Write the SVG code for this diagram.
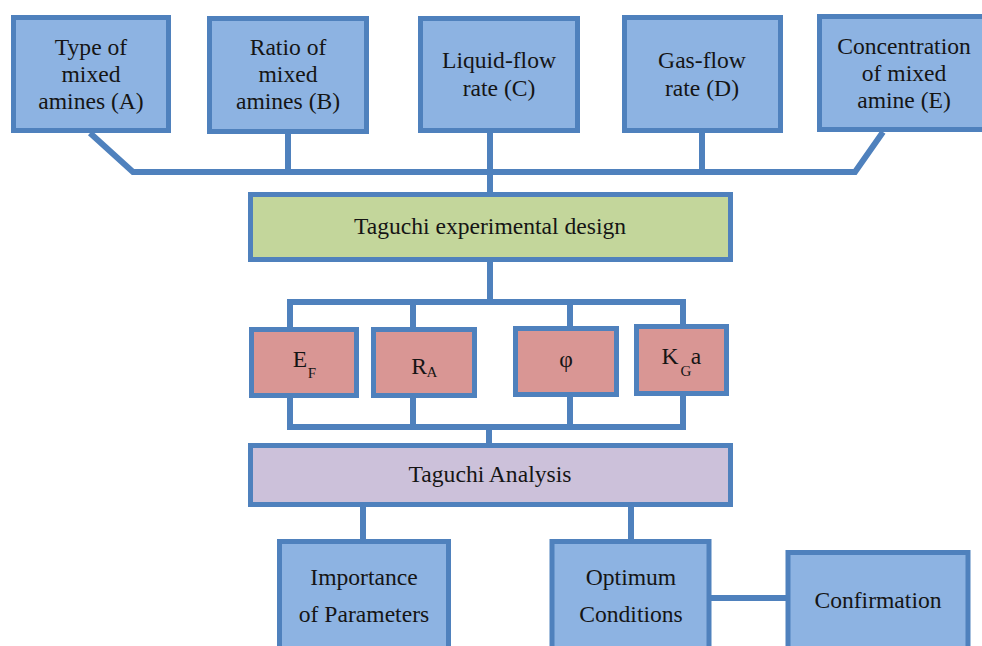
<svg xmlns="http://www.w3.org/2000/svg" width="982" height="646" viewBox="0 0 982 646">
<style>
.box{stroke:#4f81bd;stroke-width:5}
.blue{fill:#8db3e2}
.green{fill:#c3d69b}
.pink{fill:#d99694}
.purple{fill:#ccc1da}
text{font-family:"Liberation Serif","Times New Roman",serif;font-size:23.6px;fill:#151515;text-anchor:middle}
.sub{font-size:15px}
.conn{stroke:#4f81bd;stroke-width:6;fill:none;stroke-linejoin:miter}
</style>
<rect width="982" height="646" fill="#fff"/>
<g id="connectors">
<polyline class="conn" points="90,133 133,172 855,172 883,132"/>
<line class="conn" x1="288" y1="133" x2="288" y2="172"/>
<line class="conn" x1="490" y1="133" x2="490" y2="195"/>
<line class="conn" x1="702" y1="133" x2="702" y2="172"/>
<line class="conn" x1="490" y1="260" x2="490" y2="302"/>
<polyline class="conn" points="290,330 290,302 683,302 683,327"/>
<line class="conn" x1="413" y1="302" x2="413" y2="330"/>
<line class="conn" x1="570" y1="302" x2="570" y2="329"/>
<polyline class="conn" points="290,396 290,427 683,427 683,394"/>
<line class="conn" x1="413" y1="396" x2="413" y2="427"/>
<line class="conn" x1="570" y1="395" x2="570" y2="427"/>
<line class="conn" x1="489" y1="427" x2="489" y2="446"/>
<line class="conn" x1="363" y1="505" x2="363" y2="541"/>
<line class="conn" x1="631" y1="505" x2="631" y2="541"/>
<line class="conn" x1="711" y1="598" x2="787" y2="598"/>
</g>
<g id="nodeA"><rect class="box blue" x="13.5" y="17.5" width="155" height="113"/>
<text x="91" y="55">Type of</text><text x="91" y="82">mixed</text><text x="91" y="109">amines (A)</text></g>
<g id="nodeB"><rect class="box blue" x="209.5" y="18.5" width="157" height="113"/>
<text x="288" y="55">Ratio of</text><text x="288" y="82">mixed</text><text x="288" y="109">amines (B)</text></g>
<g id="nodeC"><rect class="box blue" x="420.5" y="18.5" width="157" height="112"/>
<text x="499" y="68">Liquid-flow</text><text x="499" y="96">rate (C)</text></g>
<g id="nodeD"><rect class="box blue" x="624.5" y="17.5" width="156" height="113"/>
<text x="702" y="68">Gas-flow</text><text x="702" y="96">rate (D)</text></g>
<g id="nodeE"><rect class="box blue" x="819.5" y="16.5" width="170" height="113"/>
<text x="904" y="54">Concentration</text><text x="904" y="81">of mixed</text><text x="904" y="108">amine (E)</text></g>
<g id="design"><rect class="box green" x="250.5" y="194.5" width="480" height="65"/>
<text x="490" y="234">Taguchi experimental design</text></g>
<g id="EF"><rect class="box pink" x="251.5" y="329.5" width="105" height="66"/>
<text x="300" y="367">E</text><text class="sub" x="312" y="378">F</text></g>
<g id="RA"><rect class="box pink" x="373.5" y="329.5" width="101" height="66"/>
<text x="419" y="374">R</text><text class="sub" x="432" y="377">A</text></g>
<g id="phi"><rect class="box pink" x="515.5" y="328.5" width="101" height="66"/>
<text x="566" y="367">φ</text></g>
<g id="KGa"><rect class="box pink" x="636.5" y="326.5" width="90" height="67"/>
<text x="670" y="364">K</text><text class="sub" x="686" y="376">G</text><text x="696" y="364">a</text></g>
<g id="analysis"><rect class="box purple" x="250.5" y="445.5" width="480" height="59"/>
<text x="490" y="482">Taguchi Analysis</text></g>
<g id="importance"><rect class="box blue" x="279.5" y="541.5" width="169" height="110"/>
<text x="364" y="585">Importance</text><text x="364" y="622">of Parameters</text></g>
<g id="optimum"><rect class="box blue" x="552" y="541.5" width="157" height="110"/>
<text x="631" y="585">Optimum</text><text x="631" y="622">Conditions</text></g>
<g id="confirmation"><rect class="box blue" x="788" y="552.5" width="180" height="100"/>
<text x="878" y="608">Confirmation</text></g>
</svg>
